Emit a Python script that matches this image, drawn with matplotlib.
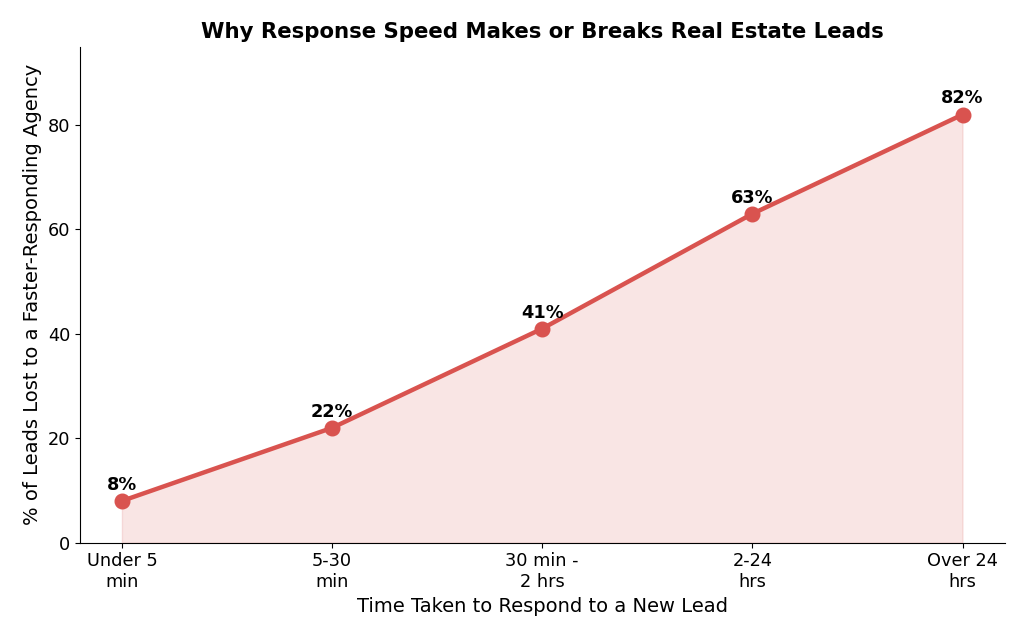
import matplotlib
matplotlib.use("Agg")
import matplotlib.pyplot as plt

categories = ["Under 5\nmin", "5-30\nmin", "30 min -\n2 hrs", "2-24\nhrs", "Over 24\nhrs"]
values = [8, 22, 41, 63, 82]
labels = ["8%", "22%", "41%", "63%", "82%"]

color = "#d9534f"

fig, ax = plt.subplots(figsize=(10.24, 6.4), dpi=100)
x = list(range(len(categories)))
ax.fill_between(x, values, color=color, alpha=0.15)
ax.plot(x, values, color=color, linewidth=3.2, marker="o", markersize=10.5)
for xi, v, lab in zip(x, values, labels):
    ax.annotate(lab, (xi, v), textcoords="offset points", xytext=(0, 8),
                ha="center", fontsize=12.8, fontweight="bold")

ax.set_xticks(x)
ax.set_xticklabels(categories, fontsize=12.8)
ax.tick_params(axis="y", labelsize=12.8)
ax.set_xlim(-0.2, 4.2)
ax.set_ylim(0, 95)
ax.set_xlabel("Time Taken to Respond to a New Lead", fontsize=14)
ax.set_ylabel("% of Leads Lost to a Faster-Responding Agency", fontsize=14)
ax.set_title("Why Response Speed Makes or Breaks Real Estate Leads", fontsize=15.3, fontweight="bold")
ax.spines["top"].set_visible(False)
ax.spines["right"].set_visible(False)

fig.subplots_adjust(left=0.078, right=0.981, top=0.927, bottom=0.152)
fig.savefig("out.png", dpi=100)
